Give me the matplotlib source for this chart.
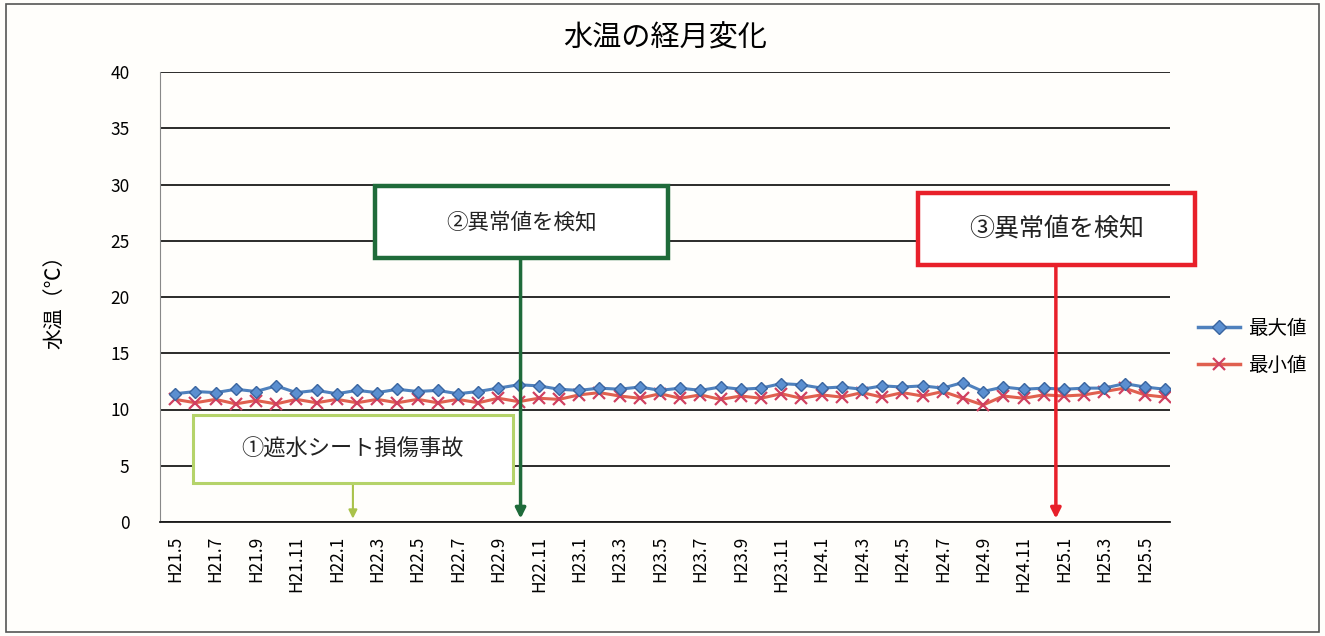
import matplotlib
matplotlib.use("Agg")
import matplotlib.pyplot as plt
from matplotlib.patches import Rectangle
from matplotlib.lines import Line2D

plt.rcParams['font.family'] = ['Noto Sans CJK JP', 'DejaVu Sans']

# ---- data (monthly, H21.5 .. H25.6) ----
months = [f"H{y}.{m}" for y, ms in [(21, range(5, 13)), (22, range(1, 13)), (23, range(1, 13)),
                                      (24, range(1, 13)), (25, range(1, 7))] for m in ms]
max_vals = [11.4, 11.6, 11.5, 11.8, 11.6, 12.1, 11.5, 11.7, 11.4, 11.7,
            11.5, 11.8, 11.6, 11.7, 11.4, 11.6, 11.9, 12.2, 12.1, 11.8,
            11.7, 11.9, 11.8, 12.0, 11.7, 11.9, 11.7, 12.0, 11.8, 11.9,
            12.3, 12.2, 11.9, 12.0, 11.8, 12.1, 12.0, 12.1, 11.9, 12.4,
            11.6, 12.0, 11.8, 11.9, 11.8, 11.9, 11.9, 12.3, 12.0, 11.8]
min_vals = [10.9, 10.6, 10.9, 10.5, 10.8, 10.5, 10.9, 10.6, 10.9, 10.6,
            10.9, 10.6, 10.9, 10.6, 10.9, 10.6, 11.0, 10.7, 11.0, 10.9,
            11.3, 11.5, 11.2, 11.0, 11.4, 11.0, 11.3, 10.9, 11.2, 11.0,
            11.4, 11.0, 11.3, 11.1, 11.5, 11.1, 11.5, 11.2, 11.6, 11.0,
            10.4, 11.2, 11.0, 11.3, 11.2, 11.3, 11.6, 11.9, 11.3, 11.1]
tick_labels = months[::2]
y_ticks = [0, 5, 10, 15, 20, 25, 30, 35, 40]

W, H = 1325, 636
fig = plt.figure(figsize=(W / 100, H / 100), dpi=100)
fig.patch.set_facecolor('#fffefb')

def fx(x):
    return x / W

def fy(y):
    return 1 - y / H

ax = fig.add_axes([fx(160), fy(522), fx(1170) - fx(160), fy(72) - fy(522)])
ax.set_facecolor('#fffefb')
x = list(range(len(months)))

ax.plot(x, min_vals, color='#e0604f', lw=2.2, marker='x', ms=9, mew=1.6,
        mec='#d04060', zorder=3, label='最小値')
ax.plot(x, max_vals, color='#4f81bd', lw=2.2, marker='D', ms=6,
        mfc='#5b8fd0', mec='#3a65a0', zorder=4, label='最大値')

ax.set_xlim(-0.75, len(months) - 0.75)
ax.set_ylim(0, 40)
ax.set_yticks(y_ticks)
ax.set_yticklabels([str(v) for v in y_ticks], fontsize=12.5)
ax.set_xticks(x[::2])
ax.set_xticklabels(tick_labels, rotation=90, fontsize=12.5)
ax.tick_params(axis='y', length=0, pad=22)
ax.tick_params(axis='x', length=0, pad=10)
ax.grid(axis='y', color='#1a1a1a', lw=1.3)
ax.set_axisbelow(True)
for s in ['top', 'right']:
    ax.spines[s].set_visible(False)
ax.spines['left'].set_color('#888888')
ax.spines['bottom'].set_color('#1a1a1a')
ax.spines['bottom'].set_linewidth(1.3)

ax.set_ylabel('水温（℃）', fontsize=15, labelpad=32)

fig.text(fx(665), fy(38), '水温の経月変化', fontsize=21, ha='center', va='center')

# outer frame
fig.add_artist(Rectangle((fx(6), fy(632)), fx(1319) - fx(6), fy(4) - fy(632),
                         transform=fig.transFigure, fill=False, ec='#555555', lw=1.2))

# annotation boxes
def box(x0, y0, x1, y1, ec, lw, text, fs, weight='normal'):
    fig.add_artist(Rectangle((fx(x0), fy(y1)), fx(x1) - fx(x0), fy(y0) - fy(y1),
                             transform=fig.transFigure, facecolor='white', ec=ec, lw=lw, zorder=5))
    fig.text((fx(x0) + fx(x1)) / 2, (fy(y0) + fy(y1)) / 2, text, fontsize=fs,
             ha='center', va='center', color='#222222', zorder=6, weight=weight)

box(193, 415, 513, 483, '#b5d36a', 2.2, '①遮水シート損傷事故', 16)
box(375, 186, 668, 258, '#1f6b3a', 3.2, '②異常値を検知', 15.5)
box(918, 193, 1195, 265, '#e8202a', 3.2, '③異常値を検知', 18)

def arrow(xd, y_top_px, color, lw, hw):
    y_top = (522 - y_top_px) / 450 * 40
    ax.annotate('', xy=(xd, 0.3), xytext=(xd, y_top), annotation_clip=False,
                arrowprops=dict(arrowstyle=f'-|>,head_width={hw},head_length={hw*2}',
                                color=color, lw=lw, shrinkA=0, shrinkB=0), zorder=7)

arrow(8.8, 484, '#a9c24a', 1.5, 0.25)
arrow(17.1, 259, '#1f6b3a', 2.5, 0.3)
arrow(43.6, 266, '#e8202a', 2.5, 0.3)

# legend
handles = [Line2D([], [], color='#4f81bd', lw=2.5, marker='D', ms=7, mfc='#5b8fd0', mec='#3a65a0'),
           Line2D([], [], color='#e0604f', lw=2.5, marker='x', ms=9, mew=1.6, mec='#d04060')]
fig.legend(handles, ['最大値', '最小値'], loc='center left',
           bbox_to_anchor=(fx(1180), fy(347)), frameon=False, fontsize=14,
           handlelength=2.2, labelspacing=0.8, handletextpad=0.4)

fig.savefig('out.png', dpi=100, facecolor=fig.get_facecolor())
